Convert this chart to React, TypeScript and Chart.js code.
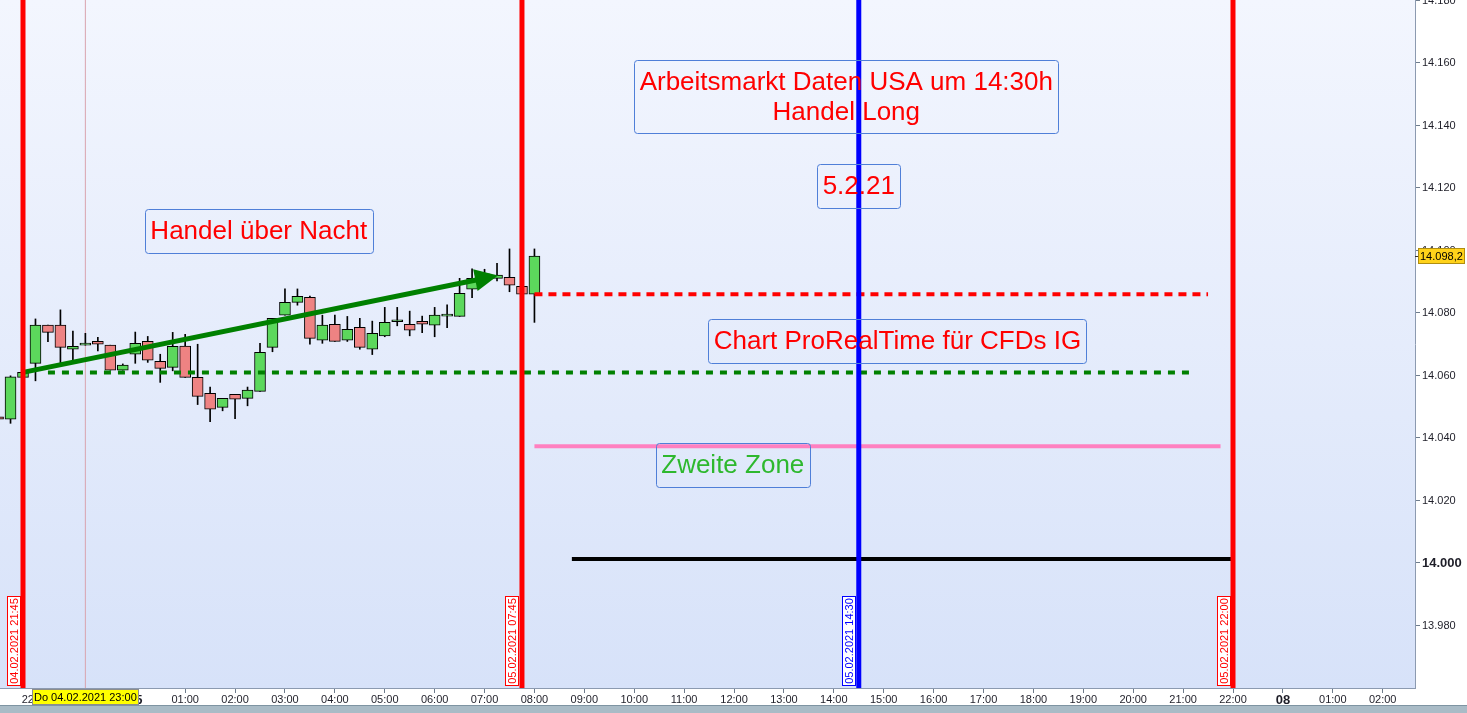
import React, { useEffect, useRef } from "react";
import { Chart, registerables } from "chart.js";

Chart.register(...registerables);

const FONT = '"Liberation Sans", Arial, Helvetica, sans-serif';

const Y_MIN = 13960;
const Y_MAX = 14180.16;
// x axis: 15-minute slots, slot 0 = Do 04.02.2021 21:45
const X_MIN = -1.844;
const X_MAX = 111.59;

const candleSlots = [
  -2, -1, 0, 1, 2, 3, 4, 5, 6, 7, 8, 9, 10, 11, 12, 13, 14, 15, 16, 17, 18, 19,
  20, 21, 22, 23, 24, 25, 26, 27, 28, 29, 30, 31, 32, 33, 34, 35, 36, 37, 38, 39, 40, 41,
];
const opens = [
  14046.8, 14046.0, 14059.4, 14063.9, 14076.1, 14076.1, 14068.4, 14069.7, 14070.9, 14069.7,
  14061.7, 14066.8, 14070.9, 14064.5, 14062.6, 14069.4, 14059.4, 14054.3, 14049.8, 14054.0,
  14052.7, 14054.9, 14069.0, 14079.3, 14083.4, 14085.0, 14071.3, 14076.4, 14071.3, 14075.4,
  14068.4, 14072.7, 14077.2, 14076.4, 14077.3, 14076.1, 14079.0, 14078.9, 14087.6, 14091.0,
  14091.1, 14091.4, 14088.5, 14086.0,
];
const highs = [
  14047.5, 14059.9, 14061.2, 14078.1, 14076.1, 14081.0, 14074.2, 14073.5, 14072.2, 14069.7,
  14063.7, 14073.9, 14072.5, 14066.8, 14073.8, 14073.2, 14070.0, 14056.3, 14052.7, 14054.0,
  14056.3, 14070.3, 14078.3, 14087.7, 14087.7, 14085.4, 14079.3, 14079.3, 14078.9, 14078.3,
  14077.4, 14081.8, 14081.8, 14080.6, 14079.0, 14081.8, 14082.6, 14091.1, 14094.1, 14094.0,
  14095.9, 14100.5, 14089.0, 14100.5,
];
const lows = [
  14045.5, 14044.7, 14059.0, 14058.3, 14070.8, 14064.1, 14065.0, 14069.7, 14067.9, 14061.7,
  14061.7, 14063.9, 14064.2, 14057.8, 14061.5, 14059.4, 14050.7, 14045.2, 14048.7, 14046.2,
  14050.3, 14054.9, 14067.6, 14079.3, 14082.5, 14070.0, 14070.3, 14070.9, 14070.9, 14068.4,
  14066.7, 14072.4, 14075.9, 14072.7, 14073.7, 14072.4, 14075.3, 14078.9, 14084.9, 14090.0,
  14090.3, 14086.8, 14086.0, 14077.0,
];
const closes = [
  14046.0, 14059.6, 14061.0, 14076.1, 14073.8, 14069.0, 14069.3, 14070.3, 14070.0, 14061.7,
  14063.3, 14070.3, 14064.9, 14062.3, 14069.3, 14059.4, 14053.3, 14049.2, 14052.7, 14052.4,
  14055.3, 14067.4, 14078.3, 14083.4, 14085.3, 14071.9, 14076.1, 14070.9, 14074.8, 14069.0,
  14073.5, 14077.0, 14077.2, 14074.5, 14076.4, 14079.3, 14079.0, 14086.3, 14091.1, 14092.5,
  14092.1, 14088.9, 14086.0, 14098.2,
];

const hourTickSlots = [
  1, 5, 9, 13, 17, 21, 25, 29, 33, 37, 41, 45, 49, 53, 57, 61, 65, 69, 73, 77, 81, 85, 89,
  93, 97, 101, 105, 109,
];
const hourTickLabels = [
  "22:00", "23:00", "05", "01:00", "02:00", "03:00", "04:00", "05:00", "06:00", "07:00",
  "08:00", "09:00", "10:00", "11:00", "12:00", "13:00", "14:00", "15:00", "16:00", "17:00",
  "18:00", "19:00", "20:00", "21:00", "22:00", "08", "01:00", "02:00",
];
const dayTickLabels = ["05", "08"];
const yTickValues = [13980, 14000, 14020, 14040, 14060, 14080, 14100, 14120, 14140, 14160, 14180];

const lastPrice = 14098.2;
const lastPriceLabel = "14.098,2";

// vertical markers
const markerSlots = [0, 40, 67, 97];
const markerLabels = ["04.02.2021 21:45", "05.02.2021 07:45", "05.02.2021 14:30", "05.02.2021 22:00"];
const markerColors = ["#FF0000", "#FF0000", "#0000FF", "#FF0000"];

const crosshairSlot = 5;
const crosshairLabel = "Do 04.02.2021 23:00";

// horizontal levels: [price, fromSlot, toSlot]
const redLevel = [14086.0, 41, 95];
const greenLevel = [14061.0, 2, 93.6];
const pinkLevel = [14037.4, 41, 96];
const blackLevel = [14001.3, 44, 97];

// trend arrow: from (slot, price) to (slot, price)
const arrowFrom = [0, 14061.0];
const arrowTo = [37.6, 14091.6];

// text notes
const noteLines = [
  ["Arbeitsmarkt Daten USA um 14:30h", "Handel Long"],
  ["5.2.21"],
  ["Handel über Nacht"],
  ["Chart ProRealTime für CFDs IG"],
  ["Zweite Zone"],
];
const noteSlots = [66.0, 67.0, 18.9, 70.1, 56.9];
const notePrices = [14149.3, 14120.6, 14106.4, 14071.0, 14031.4];
const noteColors = ["#FF0000", "#FF0000", "#FF0000", "#FF0000", "#2EB82E"];

function fmtPrice(v: number): string {
  const r = Math.round(v);
  const th = Math.floor(r / 1000);
  const rest = String(r % 1000).padStart(3, "0");
  return th + "." + rest;
}

function hLine(level: number[]) {
  return [
    { x: level[1], y: level[0] },
    { x: level[2], y: level[0] },
  ];
}

const bgPlugin = {
  id: "bgPlugin",
  beforeDraw(chart: any) {
    const { ctx, chartArea: a, width, height } = chart;
    ctx.save();
    ctx.fillStyle = "#FFFFFF";
    ctx.fillRect(0, 0, width, height);
    const g = ctx.createLinearGradient(0, a.top, 0, a.bottom);
    g.addColorStop(0, "#F3F6FE");
    g.addColorStop(1, "#D7E2F9");
    ctx.fillStyle = g;
    ctx.fillRect(a.left, a.top, a.right - a.left, a.bottom - a.top);
    ctx.fillStyle = "#A9BBC6";
    ctx.fillRect(0, height - 8, width, 8);
    ctx.fillStyle = "#7E94A2";
    ctx.fillRect(0, height - 8, width, 1);
    ctx.restore();
  },
};

function roundRect(ctx: CanvasRenderingContext2D, x: number, y: number, w: number, h: number, r: number) {
  ctx.beginPath();
  ctx.moveTo(x + r, y);
  ctx.lineTo(x + w - r, y);
  ctx.quadraticCurveTo(x + w, y, x + w, y + r);
  ctx.lineTo(x + w, y + h - r);
  ctx.quadraticCurveTo(x + w, y + h, x + w - r, y + h);
  ctx.lineTo(x + r, y + h);
  ctx.quadraticCurveTo(x, y + h, x, y + h - r);
  ctx.lineTo(x, y + r);
  ctx.quadraticCurveTo(x, y, x + r, y);
  ctx.closePath();
}

const notesPlugin = {
  id: "notesPlugin",
  afterDatasetsDraw(chart: any) {
    const { ctx, scales, chartArea: a } = chart;
    const xs = scales.x;
    const ys = scales.y;
    ctx.save();

    // arrow head
    const p0x = xs.getPixelForValue(arrowFrom[0]);
    const p0y = ys.getPixelForValue(arrowFrom[1]);
    const p1x = xs.getPixelForValue(arrowTo[0]);
    const p1y = ys.getPixelForValue(arrowTo[1]);
    const ang = Math.atan2(p1y - p0y, p1x - p0x);
    const tipX = p1x + Math.cos(ang) * 6;
    const tipY = p1y + Math.sin(ang) * 6;
    const len = 23;
    const half = 11;
    const bx = tipX - Math.cos(ang) * len;
    const by = tipY - Math.sin(ang) * len;
    ctx.fillStyle = "#008000";
    ctx.beginPath();
    ctx.moveTo(tipX, tipY);
    ctx.lineTo(bx + Math.sin(ang) * half, by - Math.cos(ang) * half);
    ctx.lineTo(bx - Math.sin(ang) * half, by + Math.cos(ang) * half);
    ctx.closePath();
    ctx.fill();

    // vertical marker labels
    ctx.font = "11px " + FONT;
    for (let k = 0; k < markerSlots.length; k++) {
      const px = xs.getPixelForValue(markerSlots[k]);
      const w = 14;
      const h = 90;
      const right = Math.round(px - 2.5);
      const left = right - w;
      const bottom = Math.round(a.bottom - 2);
      const top = bottom - h;
      ctx.fillStyle = "#FFFFFF";
      ctx.fillRect(left, top, w, h);
      ctx.strokeStyle = markerColors[k];
      ctx.lineWidth = 1;
      ctx.strokeRect(left + 0.5, top + 0.5, w - 1, h - 1);
      ctx.save();
      ctx.translate(left + w / 2, top + h / 2);
      ctx.rotate(-Math.PI / 2);
      ctx.fillStyle = markerColors[k];
      ctx.textAlign = "center";
      ctx.textBaseline = "middle";
      ctx.fillText(markerLabels[k], 0, 1);
      ctx.restore();
    }

    // text notes
    ctx.font = "26px " + FONT;
    ctx.textAlign = "center";
    ctx.textBaseline = "middle";
    for (let k = 0; k < noteLines.length; k++) {
      const lines = noteLines[k];
      const cx = xs.getPixelForValue(noteSlots[k]);
      const cy = ys.getPixelForValue(notePrices[k]);
      let tw = 0;
      for (const l of lines) tw = Math.max(tw, ctx.measureText(l).width);
      const lh = 30;
      const w = Math.round(tw + 11);
      const h = 44 + (lines.length - 1) * lh - (lines.length - 1);
      const left = Math.round(cx - w / 2) + 0.5;
      const top = Math.round(cy - h / 2) + 0.5;
      roundRect(ctx, left, top, w, h, 3);
      ctx.strokeStyle = "#4F7FD8";
      ctx.lineWidth = 1;
      ctx.stroke();
      ctx.fillStyle = noteColors[k];
      const startY = cy - ((lines.length - 1) * lh) / 2;
      lines.forEach((l, j) => ctx.fillText(l, cx, startY + j * lh + 1));
    }
    ctx.restore();
  },
  afterDraw(chart: any) {
    const { ctx, scales, chartArea: a } = chart;
    const xs = scales.x;
    const ys = scales.y;
    ctx.save();
    // crosshair date label on x axis
    ctx.font = "11px " + FONT;
    const cx = xs.getPixelForValue(crosshairSlot);
    const tw = ctx.measureText(crosshairLabel).width;
    const w = Math.round(tw + 4);
    const left = Math.round(cx - w / 2);
    const top = Math.round(a.bottom + 1);
    ctx.fillStyle = "#FFFF00";
    ctx.fillRect(left, top, w, 16);
    ctx.strokeStyle = "#8C8C8C";
    ctx.lineWidth = 1;
    ctx.strokeRect(left + 0.5, top + 0.5, w - 1, 15);
    ctx.fillStyle = "#000000";
    ctx.textAlign = "center";
    ctx.textBaseline = "middle";
    ctx.fillText(crosshairLabel, cx, top + 8.5);

    // last price label on y axis
    const py = ys.getPixelForValue(lastPrice);
    const pl = Math.round(a.right + 3);
    const ptop = Math.round(py - 8);
    ctx.strokeStyle = "#303030";
    ctx.beginPath();
    ctx.moveTo(a.right, Math.round(py) + 0.5);
    ctx.lineTo(pl, Math.round(py) + 0.5);
    ctx.stroke();
    ctx.fillStyle = "#FFD21A";
    ctx.fillRect(pl, ptop, 47, 16);
    ctx.strokeStyle = "#B08E10";
    ctx.strokeRect(pl + 0.5, ptop + 0.5, 46, 15);
    ctx.fillStyle = "#000000";
    ctx.textAlign = "left";
    ctx.fillText(lastPriceLabel, pl + 2, ptop + 8.5);
    ctx.restore();
  },
};

export default function App() {
  const ref = useRef<HTMLCanvasElement | null>(null);

  useEffect(() => {
    if (!ref.current) return;
    const bodies = candleSlots.map((s, k) => ({ x: s, y: [opens[k], closes[k]] }));
    const wicks = candleSlots.map((s, k) => ({ x: s, y: [lows[k], highs[k]] }));
    const bodyColors = candleSlots.map((_, k) => (closes[k] >= opens[k] ? "#5CD85C" : "#EE8383"));

    const vertical = markerSlots.map((s, k) => ({
      type: "line",
      data: [
        { x: s, y: Y_MIN },
        { x: s, y: Y_MAX },
      ],
      borderColor: markerColors[k],
      borderWidth: 5,
      pointRadius: 0,
      order: 1,
    }));

    const chart = new Chart(ref.current, {
      type: "bar",
      data: {
        datasets: [
          ...(vertical as any[]),
          {
            type: "line",
            data: [
              { x: crosshairSlot, y: Y_MIN },
              { x: crosshairSlot, y: Y_MAX },
            ],
            borderColor: "#D9A3AE",
            borderWidth: 1,
            pointRadius: 0,
            order: 6,
          },
          {
            type: "line",
            data: [
              { x: arrowFrom[0], y: arrowFrom[1] },
              { x: arrowTo[0], y: arrowTo[1] },
            ],
            borderColor: "#008000",
            borderWidth: 5,
            pointRadius: 0,
            order: 2,
          },
          {
            type: "line",
            data: hLine(redLevel),
            borderColor: "#FF0000",
            borderWidth: 4,
            borderDash: [8, 6],
            pointRadius: 0,
            order: 3,
          },
          {
            type: "line",
            data: hLine(greenLevel),
            borderColor: "#008000",
            borderWidth: 4,
            borderDash: [7, 7],
            pointRadius: 0,
            order: 3,
          },
          {
            type: "line",
            data: hLine(pinkLevel),
            borderColor: "#FF80C0",
            borderWidth: 4,
            pointRadius: 0,
            order: 3,
          },
          {
            type: "line",
            data: hLine(blackLevel),
            borderColor: "#000000",
            borderWidth: 4,
            pointRadius: 0,
            order: 3,
          },
          {
            type: "bar",
            data: bodies as any,
            backgroundColor: bodyColors,
            borderColor: "#000000",
            borderWidth: 1,
            borderSkipped: false,
            barThickness: 11,
            minBarLength: 2,
            grouped: false,
            order: 4,
          },
          {
            type: "bar",
            data: wicks as any,
            backgroundColor: "#000000",
            borderWidth: 0,
            barThickness: 1,
            grouped: false,
            order: 5,
          },
        ] as any,
      },
      options: {
        animation: false,
        responsive: false,
        events: [],
        layout: { padding: 0 },
        plugins: { legend: { display: false }, tooltip: { enabled: false } },
        scales: {
          x: {
            type: "linear",
            position: "bottom",
            min: X_MIN,
            max: X_MAX,
            offset: false,
            afterBuildTicks: (s: any) => {
              s.ticks = hourTickSlots.map((v) => ({ value: v }));
            },
            afterFit: (s: any) => {
              s.height = 25;
              s.paddingLeft = 0;
              s.paddingRight = 0;
            },
            grid: {
              drawOnChartArea: false,
              drawTicks: true,
              tickLength: 5,
              color: "#6E7C8C",
              offset: false,
            },
            border: { display: true, color: "#8C9AB0" },
            ticks: {
              autoSkip: false,
              maxRotation: 0,
              minRotation: 0,
              padding: 0,
              color: "#1E1E28",
              callback: (_v: any, i: number) => hourTickLabels[i],
              font: (c: any) => {
                const lbl = hourTickLabels[c.index];
                return dayTickLabels.includes(lbl)
                  ? { family: FONT, size: 13, weight: "bold" }
                  : { family: FONT, size: 11, weight: "normal" };
              },
            },
          },
          y: {
            type: "linear",
            position: "right",
            min: Y_MIN,
            max: Y_MAX,
            afterBuildTicks: (s: any) => {
              s.ticks = yTickValues.map((v) => ({ value: v }));
            },
            afterFit: (s: any) => {
              s.width = 52;
              s.paddingTop = 0;
              s.paddingBottom = 0;
            },
            grid: {
              drawOnChartArea: false,
              drawTicks: true,
              tickLength: 5,
              color: "#6E7C8C",
            },
            border: { display: true, color: "#8C9AB0" },
            ticks: {
              padding: 2,
              color: "#1E1E28",
              callback: (v: any) => fmtPrice(Number(v)),
              font: (c: any) =>
                c.tick && c.tick.value === 14000
                  ? { family: FONT, size: 13, weight: "bold" }
                  : { family: FONT, size: 11, weight: "normal" },
            },
          },
        },
      } as any,
      plugins: [bgPlugin, notesPlugin],
    });
    return () => chart.destroy();
  }, []);

  return (
    <div style={{ position: "fixed", left: 0, top: 0, width: 1467, height: 713 }}>
      <canvas ref={ref} width={1467} height={713} style={{ display: "block" }} />
    </div>
  );
}
